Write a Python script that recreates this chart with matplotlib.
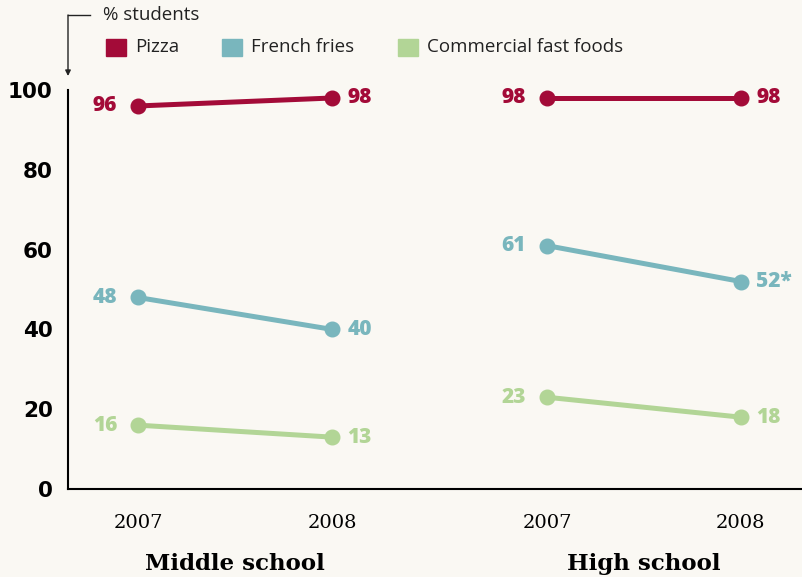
import matplotlib.pyplot as plt

# data
groups = ["Middle school", "High school"]
years = ["2007", "2008"]
series = ["Pizza", "French fries", "Commercial fast foods"]
middle = {"Pizza": [96, 98], "French fries": [48, 40], "Commercial fast foods": [16, 13]}
high = {"Pizza": [98, 98], "French fries": [61, 52], "Commercial fast foods": [23, 18]}
high_suffix = {"French fries": "*"}

colors = {"Pizza": "#a30b38", "French fries": "#79b6bd", "Commercial fast foods": "#b2d596"}
bg = "#faf8f3"

fig = plt.figure(figsize=(8.03, 5.77), dpi=100, facecolor=bg)
ax = fig.add_axes([0.0847, 0.1525, 0.9153, 0.6915], facecolor=bg)

xpos = [[0, 1], [2.108, 3.108]]
for gi, data in enumerate([middle, high]):
    xs = xpos[gi]
    for s in series:
        vals = data[s]
        ax.plot(xs, vals, color=colors[s], lw=3.6, marker="o", ms=10.5,
                solid_capstyle="round", zorder=3, clip_on=False)
        suf = high_suffix.get(s, "") if gi == 1 else ""
        ax.annotate(str(vals[0]), (xs[0], vals[0]), xytext=(-15, 0),
                    textcoords="offset points", ha="right", va="center",
                    color=colors[s], fontsize=15, fontweight="heavy",
                    family="Open Sans")
        ax.annotate(str(vals[1]) + suf, (xs[1], vals[1]), xytext=(11, 0),
                    textcoords="offset points", ha="left", va="center",
                    color=colors[s], fontsize=15, fontweight="heavy",
                    family="Open Sans")

ax.set_xlim(-0.361, 3.428)
ax.set_ylim(0, 100)
ax.set_yticks([0, 20, 40, 60, 80, 100])
ax.set_yticklabels(["0", "20", "40", "60", "80", "100"], fontsize=15.5,
                   fontweight="bold", family="DejaVu Sans")
ax.tick_params(axis="y", length=0, pad=11)
ax.tick_params(axis="x", length=0)
ax.set_xticks([])
for sp in ["top", "right"]:
    ax.spines[sp].set_visible(False)
ax.spines["left"].set_linewidth(1.5)
ax.spines["bottom"].set_linewidth(1.5)

for gi, g in enumerate(groups):
    for yi, yr in enumerate(years):
        ax.text(xpos[gi][yi], -8.5, yr, ha="center", va="center", fontsize=14,
                family="DejaVu Serif", transform=ax.transData)
    ax.text(sum(xpos[gi]) / 2, -18.8, g, ha="center", va="center", fontsize=16.5,
            fontweight="bold", family="DejaVu Serif", transform=ax.transData)

# legend / unit label
fig.text(103 / 803, 1 - 15 / 577, "% students", ha="left", va="center",
         fontsize=13.5, family="Open Sans", color="#222222")
fig.add_artist(plt.Line2D([68 / 803, 90 / 803], [1 - 15 / 577] * 2,
                          color="#222222", lw=1))
ax.annotate("", xy=(68 / 803, 1 - 76 / 577), xytext=(68 / 803, 1 - 15 / 577),
            xycoords="figure fraction", textcoords="figure fraction",
            arrowprops=dict(arrowstyle="-|>", color="#222222", lw=1,
                            mutation_scale=8, shrinkA=0, shrinkB=0))
leg_x = [106, 222, 398]
for s, lx in zip(series, leg_x):
    fig.patches.append(plt.Rectangle((lx / 803, 1 - 56 / 577), 20 / 803, 17 / 577,
                                     transform=fig.transFigure, color=colors[s]))
    fig.text((lx + 29) / 803, 1 - 47 / 577, s, ha="left", va="center",
             fontsize=13.5, family="Open Sans", color="#222222")

fig.savefig("out.png", dpi=100, facecolor=bg)
